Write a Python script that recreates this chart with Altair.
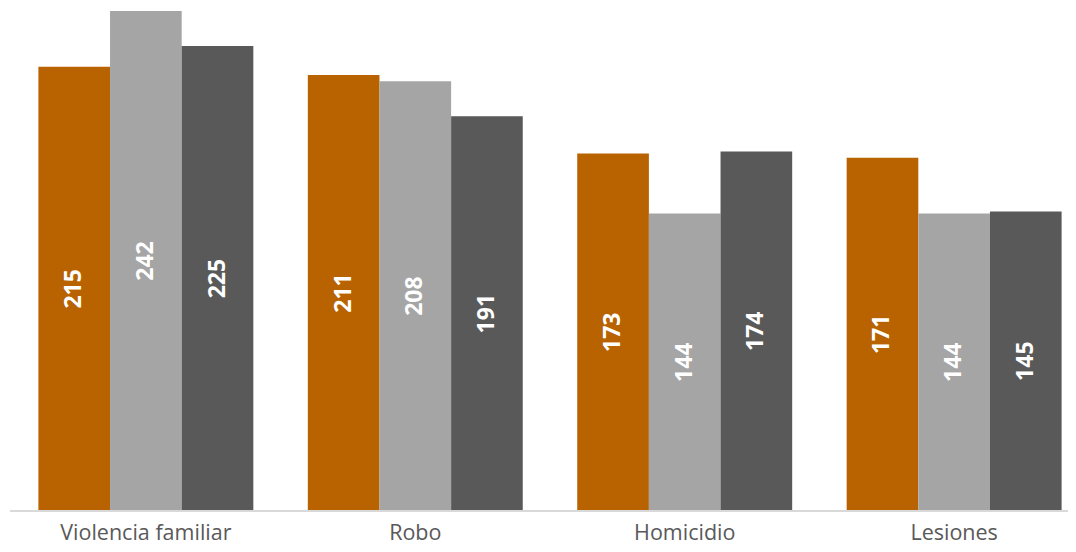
import altair as alt
import pandas as pd

categories = ["Violencia familiar", "Robo", "Homicidio", "Lesiones"]
series = ["Serie 1", "Serie 2", "Serie 3"]
serie1 = [215, 211, 173, 171]
serie2 = [242, 208, 144, 144]
serie3 = [225, 191, 174, 145]
colors = ["#B86200", "#A5A5A5", "#595959"]

rows = []
for i, c in enumerate(categories):
    for s, vals in zip(series, [serie1, serie2, serie3]):
        rows.append({"categoria": c, "serie": s, "valor": vals[i]})
df = pd.DataFrame(rows)

x = alt.X("categoria:N", sort=categories, title=None,
          scale=alt.Scale(paddingInner=0.2022, paddingOuter=0.02),
          axis=alt.Axis(labelAngle=0, labelFont="Open Sans", labelFontSize=21.5,
                        labelColor="#595959", labelPadding=11, ticks=False,
                        domain=False, grid=False))
y_scale = alt.Scale(domain=[0, 242], nice=False, zero=True)
xo = alt.XOffset("serie:N", sort=series)

bars = alt.Chart(df).mark_bar().encode(
    x=x,
    xOffset=xo,
    y=alt.Y("valor:Q", scale=y_scale, axis=None),
    color=alt.Color("serie:N", sort=series,
                    scale=alt.Scale(domain=series, range=colors), legend=None),
)

labels = alt.Chart(df).transform_calculate(mid="datum.valor / 2").mark_text(
    angle=270, color="white", font="Open Sans", fontWeight="bold", fontSize=23,
    align="center", baseline="middle"
).encode(
    x=x,
    xOffset=xo,
    y=alt.Y("mid:Q", scale=y_scale, axis=None),
    text=alt.Text("valor:Q"),
)

base_line = alt.Chart(df).mark_rule(color="#D9D9D9", strokeWidth=1.5).encode(
    x=alt.value(-23), x2=alt.value(1035), y=alt.value(500)
)

chart = alt.layer(bars, labels, base_line).properties(
    width=1034, height=500,
    background="white",
    autosize=alt.AutoSizeParams(type="none"),
    padding={"left": 25, "top": 3, "right": 1, "bottom": 33},
).configure_view(stroke=None, strokeWidth=0)

chart.save("out.html", embed_options={"renderer": "svg", "actions": False})
